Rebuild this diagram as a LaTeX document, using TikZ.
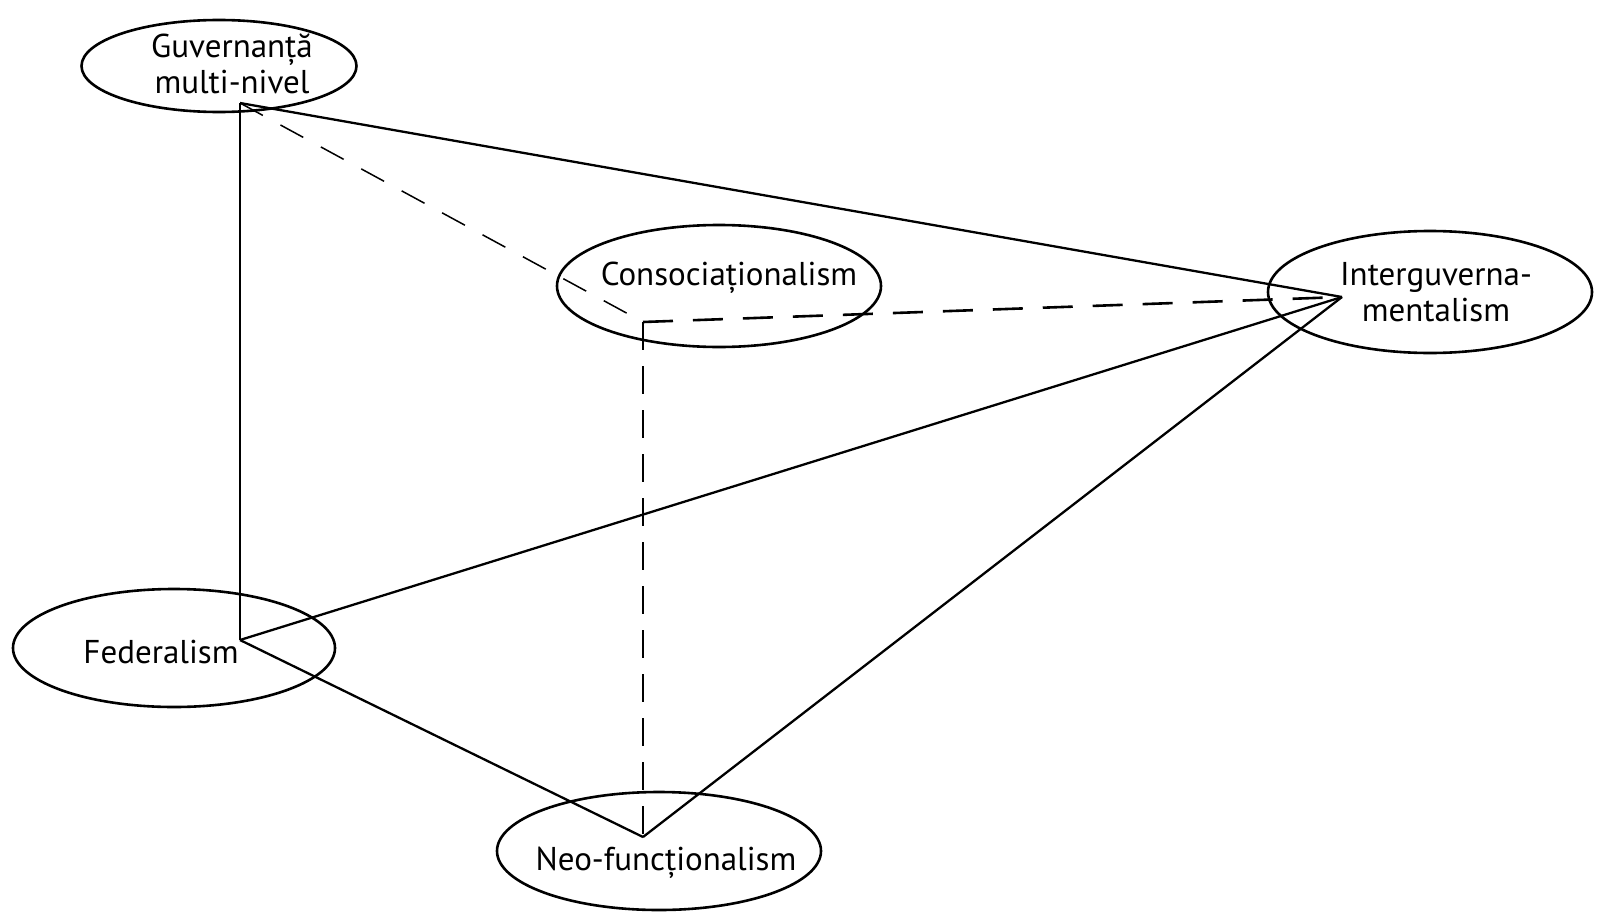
\documentclass[tikz,border=0pt]{standalone}
\usepackage{fontspec}
\setmainfont{PT Sans}
\usetikzlibrary{shapes.geometric}
\begin{document}
\begin{tikzpicture}[x=1pt,y=-1pt,
  ell/.style={draw, line width=2.6pt, ellipse, inner sep=0pt},
  lbl/.style={font=\fontsize{33}{36}\selectfont, align=center, inner sep=0pt},
  edge/.style={line width=2.3pt},
  thindash/.style={line width=1.5pt, dash pattern=on 26pt off 20pt},
  thickdash/.style={line width=2.6pt, dash pattern=on 30pt off 20pt},
  vdash/.style={line width=1.7pt, dash pattern=on 28pt off 16pt}]
\useasboundingbox (0,0) rectangle (1597,915);
% ellipses
\node[ell, minimum width=275pt, minimum height=92pt] (guvE) at (219,66) {};
\node[ell, minimum width=324pt, minimum height=122pt] (conE) at (719,286) {};
\node[ell, minimum width=324pt, minimum height=122pt] (intE) at (1430,292) {};
\node[ell, minimum width=322pt, minimum height=118pt] (fedE) at (174,648) {};
\node[ell, minimum width=324pt, minimum height=118pt] (neoE) at (659,851) {};
% labels
\node[lbl] (guv) at (232,64) {Guvernanță\\multi-nivel};
\node[lbl] (con) at (729,278) {Consociaționalism};
\node[lbl] (int) at (1436,292) {Interguverna-\\mentalism};
\node[lbl] (fed) at (161,652) {Federalism};
\node[lbl] (neo) at (666,863) {Neo-funcționalism};
% vertices
\coordinate (vG) at (240,103);
\coordinate (vC) at (643,322);
\coordinate (vI) at (1342,297);
\coordinate (vF) at (240,640);
\coordinate (vN) at (643,837);
% connectors
\draw[edge] (vG) -- (vF);
\draw[edge] (vG) -- (vI);
\draw[edge] (vF) -- (vI);
\draw[edge] (vF) -- (vN);
\draw[edge] (vN) -- (vI);
\draw[thindash] (vG) -- (vC);
\draw[thickdash] (vC) -- (vI);
\draw[vdash] (vC) -- (vN);
\end{tikzpicture}
\end{document}
